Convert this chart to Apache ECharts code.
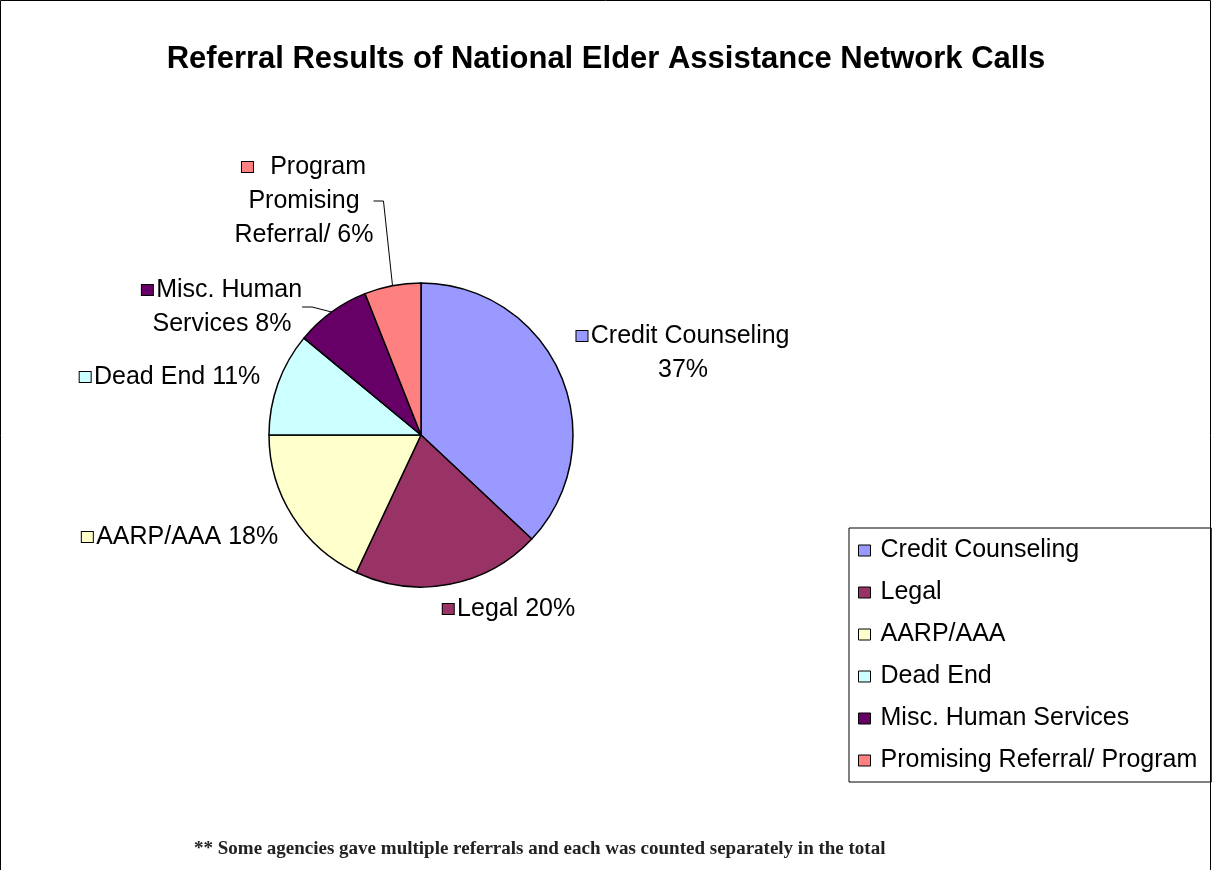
<!DOCTYPE html>
<html>
<head>
<meta charset="utf-8">
<script src="https://cdn.jsdelivr.net/npm/echarts@6/dist/echarts.min.js"></script>
<style>
html,body{margin:0;padding:0;background:#fff;}
#c{width:1212px;height:870px;}
</style>
</head>
<body>
<div id="c"></div>
<script>
const categories = ['Credit Counseling','Legal','AARP/AAA','Dead End','Misc. Human Services','Promising Referral/ Program'];
const values = [37, 20, 18, 11, 8, 6];
const colors = ['#9999FF','#993366','#FFFFCC','#CCFFFF','#660066','#FF8080'];
const labelTexts = [
  'Credit Counseling\n37%',
  'Legal 20%',
  'AARP/AAA 18%',
  'Dead End 11%',
  'Misc. Human\nServices 8%',
  '  Program\nPromising\nReferral/ 6%'
];
const titleText = 'Referral Results of National Elder Assistance Network Calls';
const footnote = '** Some agencies gave multiple referrals and each was counted separately in the total';

// label anchor positions (label boxes, centered)
const labelPos = [
  [683, 353], [509, 609], [180, 537], [170, 377], [222, 307], [304, 201]
];

const rich = {};
colors.forEach((c, i) => {
  rich['s' + i] = {width: 11, height: 10, backgroundColor: c, borderColor: '#000', borderWidth: 1};
});
rich.t = {fontSize: 25, fontFamily: 'Liberation Sans, Arial, sans-serif', color: '#000', lineHeight: 34};

const chart = echarts.init(document.getElementById('c'), null, {renderer: 'canvas'});
const data = categories.map((n, i) => ({
  name: n,
  value: values[i],
  itemStyle: {color: colors[i]},
  labelLine: {show: i >= 4}
}));

chart.setOption({
  animation: false,
  backgroundColor: '#fff',
  title: [{
    text: titleText,
    left: 'center',
    top: 39,
    textStyle: {fontSize: 31, fontWeight: 'bold', fontFamily: 'Liberation Sans, Arial, sans-serif', color: '#000'}
  }, {
    text: footnote,
    left: 189,
    top: 835,
    textStyle: {fontSize: 19, fontWeight: 'bold', fontFamily: 'Liberation Serif, serif', color: '#222'}
  }],
  legend: {
    orient: 'vertical',
    left: 849,
    top: 528,
    padding: [10, 14, 9, 9],
    borderColor: '#000',
    borderWidth: 1,
    itemWidth: 12,
    itemHeight: 11,
    itemGap: 17,
    icon: 'rect',
    itemStyle: {borderColor: '#000', borderWidth: 1},
    textStyle: {fontSize: 25, fontFamily: 'Liberation Sans, Arial, sans-serif', color: '#000', padding: [0,0,0,5], lineHeight: 25},
    data: categories
  },
  graphic: [{
    type: 'rect',
    shape: {x: 0.5, y: 0.5, width: 1210, height: 880},
    style: {fill: 'none', stroke: '#000', lineWidth: 1},
    silent: true
  }],
  series: [{
    type: 'pie',
    center: [421, 435],
    radius: 152,
    startAngle: 90,
    clockwise: true,
    itemStyle: {borderColor: '#000', borderWidth: 1.5},
    emphasis: {disabled: true},
    label: {
      show: true,
      position: 'outside',
      align: 'center',
      formatter: p => {
        const lines = labelTexts[p.dataIndex].split('\n');
        return '{s' + p.dataIndex + '|} {t|' + lines[0] + '}' + lines.slice(1).map(l => '\n{t|' + l + '}').join('');
      },
      rich: rich
    },
    labelLine: {show: false, length: 15, length2: 10, lineStyle: {color: '#000', width: 1}},
    labelLayout: p => ({
      x: labelPos[p.dataIndex][0],
      y: labelPos[p.dataIndex][1],
      align: 'center',
      verticalAlign: 'middle'
    }),
    data: data
  }]
});
</script>
</body>
</html>
